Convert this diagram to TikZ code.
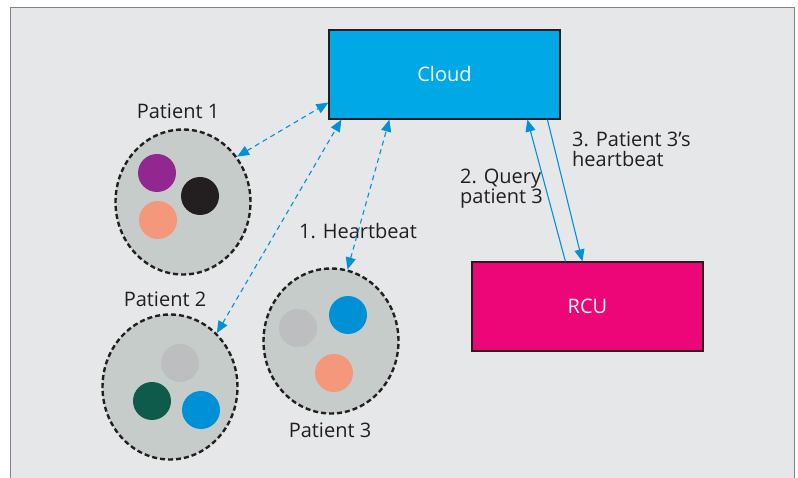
\documentclass[tikz,border=0pt]{standalone}
\usepackage{fontspec}
\setmainfont{Open Sans}
\usetikzlibrary{arrows.meta,shapes.geometric}
\definecolor{bgc}{HTML}{E6E7E9}
\definecolor{framec}{HTML}{808285}
\definecolor{txtc}{HTML}{231F20}
\definecolor{cloudc}{HTML}{00A8E6}
\definecolor{rcuc}{HTML}{EC0677}
\definecolor{arrc}{HTML}{0091D6}
\definecolor{patc}{HTML}{C5CCC9}
\definecolor{purplec}{HTML}{92278F}
\definecolor{blackc}{HTML}{231F20}
\definecolor{salmonc}{HTML}{F4977A}
\definecolor{grayc}{HTML}{BCBEC0}
\definecolor{greenc}{HTML}{0F5B4B}
\definecolor{bluec}{HTML}{0090D6}
\tikzset{
  lbl/.style={text=txtc,font=\fontsize{20}{20}\selectfont,inner sep=0pt},
  mlbl/.style={lbl,align=left,anchor=base west},
  box/.style={draw=txtc,line width=1.2pt,minimum width=231pt,minimum height=89pt,inner sep=0pt,text=white,font=\fontsize{20}{20}\selectfont},
  patient/.style={ellipse,draw=blackc,fill=patc,dash pattern=on 5pt off 3pt,line width=2.4pt,minimum width=135pt,minimum height=145pt,inner sep=0pt},
  dot/.style={circle,minimum size=38pt,inner sep=0pt},
  darr/.style={arrc,line width=1.1pt,dash pattern=on 5pt off 4pt,{Triangle[length=12pt,width=10pt]}-{Triangle[length=12pt,width=10pt]}},
  sarr/.style={arrc,line width=1.1pt,-{Triangle[length=12pt,width=10pt]}}
}
\begin{document}
\begin{tikzpicture}[x=1pt,y=-1pt]
\useasboundingbox (0,0) rectangle (798,478);
\fill[white] (0,0) rectangle (798,478);
\fill[bgc] (10.5,8) rectangle (794.5,478);
\draw[framec,line width=1pt] (10.5,478) -- (10.5,8) -- (794.5,8) -- (794.5,478);

\node[box,fill=cloudc] (cloud) at (444.5,74.5) {Cloud};
\node[box,fill=rcuc] (rcu) at (587.5,306.5) {RCU};

\node[patient] (p1) at (183,202) {};
\node[patient] (p2) at (170,387) {};
\node[patient] (p3) at (331,341) {};

\node[dot,fill=purplec] (p1a) at (157,173) {};
\node[dot,fill=blackc] (p1b) at (200,196) {};
\node[dot,fill=salmonc] (p1c) at (158,220) {};

\node[dot,fill=grayc] (p2a) at (180,363) {};
\node[dot,fill=greenc] (p2b) at (152,401) {};
\node[dot,fill=bluec] (p2c) at (201,410) {};

\node[dot,fill=grayc] (p3a) at (298,328) {};
\node[dot,fill=bluec] (p3b) at (348,315) {};
\node[dot,fill=salmonc] (p3c) at (334,373) {};

\node[lbl,anchor=base] (l1) at (178,119) {Patient 1};
\node[lbl,anchor=base] (l2) at (165,307) {Patient 2};
\node[lbl,anchor=base] (l3) at (330,437) {Patient 3};

\node[mlbl] (hb) at (299,239) {1. Heartbeat};
\node[mlbl] (q) at (460,204) {2. Query\\patient 3};
\node[mlbl] (r) at (572,167) {3. Patient 3’s\\heartbeat};

\draw[darr] (p1.40) -- ([yshift=17pt]cloud.south west);
\draw[darr] (p2.49) -- ([xshift=13pt]cloud.south west);
\draw[darr] (p3.77) -- ([xshift=61pt]cloud.south west);

\draw[sarr] ([xshift=94pt]rcu.north west) -- ([xshift=199pt]cloud.south west);
\draw[sarr] ([xshift=219pt]cloud.south west) -- ([xshift=111pt]rcu.north west);
\end{tikzpicture}
\end{document}
